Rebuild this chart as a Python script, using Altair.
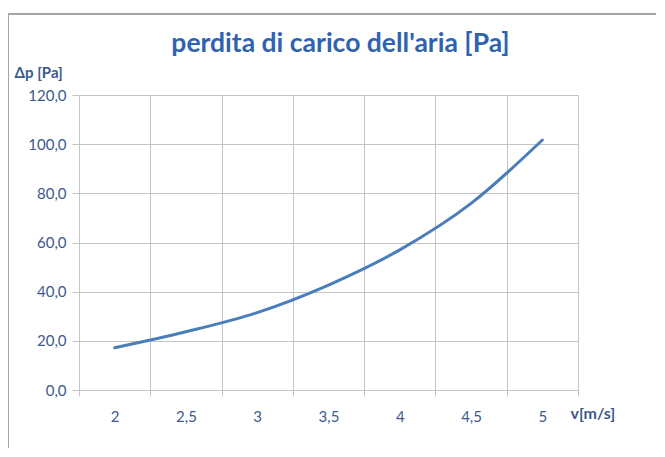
import altair as alt
import pandas as pd

# Categories (Excel category axis) and read values
v_labels = ["2", "2,5", "3", "3,5", "4", "4,5", "5"]
dp_values = [17.2, 23.7, 31.5, 42.7, 57.0, 75.9, 101.7]

title_text = "perdita di carico dell'aria [Pa]"
y_title = "Δp [Pa]"
x_title = "v[m/s]"

df = pd.DataFrame({"v": v_labels, "dp": dp_values})

FONT = "Lato"
LABEL_COLOR = "#3b5a8c"
GRID = "#c4c4c4"
FRAME = "#a6a6a6"

line = (
    alt.Chart(df)
    .mark_line(color="#4a7ebb", strokeWidth=3, interpolate="monotone", strokeCap="round")
    .encode(
        x=alt.X(
            "v:O",
            sort=v_labels,
            bandPosition=0.5,
            scale=alt.Scale(type="band", paddingInner=0, paddingOuter=0),
            axis=alt.Axis(
                title=x_title,
                titleX=491,
                titleY=23,
                titleAlign="left",
                titleBaseline="middle",
                titleFont=FONT,
                titleFontSize=16,
                titleFontWeight="bold",
                titleColor=LABEL_COLOR,
                labelAngle=0,
                labelFont=FONT,
                labelFontSize=15,
                labelColor=LABEL_COLOR,
                labelPadding=13,
                tickBand="extent",
                grid=True,
                gridColor=GRID,
                gridWidth=1,
                ticks=True,
                tickSize=6,
                tickColor=GRID,
                domainColor=GRID,
                domainWidth=1,
            ),
        ),
        y=alt.Y(
            "dp:Q",
            scale=alt.Scale(domain=[0, 120], nice=False, zero=True),
            axis=alt.Axis(
                values=[0, 20, 40, 60, 80, 100, 120],
                labelExpr="replace(format(datum.value, '.1f'), '.', ',')",
                title=y_title,
                titleAngle=0,
                titleX=-65,
                titleY=-23,
                titleAlign="left",
                titleBaseline="middle",
                titleFont=FONT,
                titleFontSize=15,
                titleFontWeight="bold",
                titleColor=LABEL_COLOR,
                labelFont=FONT,
                labelFontSize=15,
                labelColor=LABEL_COLOR,
                labelPadding=6,
                grid=True,
                gridColor=GRID,
                gridWidth=1,
                tickSize=7,
                tickColor=GRID,
                domainColor=GRID,
            ),
        ),
    )
)

# Chart-area frame (Excel chart border), top and left edges
frame_top = alt.Chart(df).mark_rule(color=FRAME, strokeWidth=1.5).encode(
    x=alt.value(-71), x2=alt.value(600), y=alt.value(-81)
)
frame_left = alt.Chart(df).mark_rule(color=FRAME, strokeWidth=1.5).encode(
    x=alt.value(-71), y=alt.value(-81), y2=alt.value(370)
)

chart = (
    alt.layer(frame_top, frame_left, line)
    .properties(
        width=499,
        height=295,
        padding={"left": 71, "top": 87, "right": 78, "bottom": 58},
        autosize=alt.AutoSizeParams(type="none"),
        title=alt.TitleParams(
            text=title_text,
            font=FONT,
            fontSize=26.5,
            fontWeight="bold",
            color="#2f63b0",
            anchor="middle",
            dx=12,
            offset=-44,
        ),
    )
    .configure_view(fill="#f0f0f0", stroke=None)
    .configure(background="white")
)

chart.save("out.html", embed_options={"renderer": "svg", "actions": False})
